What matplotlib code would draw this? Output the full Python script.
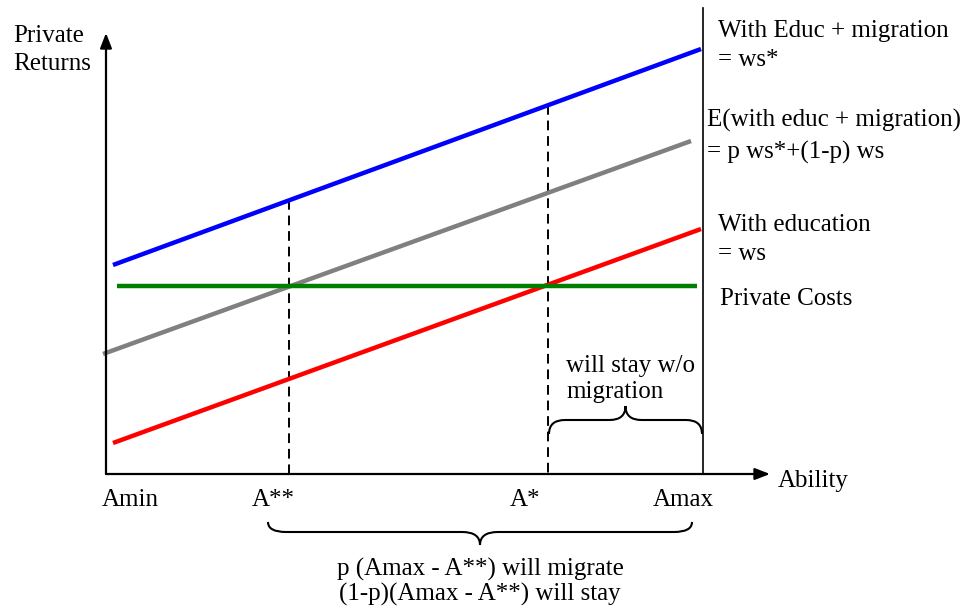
import numpy as np
import matplotlib
matplotlib.use("Agg")
import matplotlib.pyplot as plt
from matplotlib.path import Path
from matplotlib.patches import PathPatch

# schematic in canvas units (x to the right, y downwards)
origin = (106, 474)
y_top = 33
x_right = 770

# ability marks on the x axis
ability_labels = ["Amin", "A**", "A*", "Amax"]
ability_label_x = [130, 273, 525, 683]
a_star2 = 289
a_star = 548
a_max = 703

# lines: (x start, x end), (y start, y end)
line_names = ["educ_mig", "expected", "educ", "costs"]
line_x = [(113, 701), (103, 691), (113, 701), (117, 697)]
line_y = [(265, 49), (354, 141), (443, 229), (286, 286)]
line_colors = ["#0000ff", "#808080", "#ff0000", "#008000"]

# right-hand labels
right_text = ["With Educ + migration", "= ws*", "E(with educ + migration)",
              "= p ws*+(1-p) ws", "With education", "= ws", "Private Costs"]
right_x = [718, 718, 707, 707, 718, 718, 720]
right_y = [31, 60, 120, 152, 225, 254, 299]

plt.rcParams['font.family'] = ['Liberation Serif', 'DejaVu Serif']
FS = 18

fig = plt.figure(figsize=(9.61, 6.08), dpi=100)
ax = fig.add_axes([0, 0, 1, 1])
ax.set_xlim(0, 961)
ax.set_ylim(608, 0)
ax.axis('off')


def y_on(i, x):
    x0, x1 = line_x[i]
    y0, y1 = line_y[i]
    return y0 + (y1 - y0) * (x - x0) / (x1 - x0)


# axes with arrows
arrow = dict(arrowstyle='-|>,head_length=0.9,head_width=0.35', lw=1.6,
             color='black', shrinkA=0, shrinkB=0)
ax.annotate('', xy=(origin[0], y_top), xytext=origin, arrowprops=arrow)
ax.annotate('', xy=(x_right, origin[1]), xytext=origin, arrowprops=arrow)

# vertical line at Amax
ax.plot([a_max, a_max], [8, origin[1]], color='black', lw=1.2)

# dashed lines at A** and A*
ax.plot([a_star2, a_star2], [y_on(0, a_star2), origin[1]], color='black',
        lw=1.4, ls=(0, (5, 3)))
ax.plot([a_star, a_star], [y_on(0, a_star), origin[1]], color='black',
        lw=1.4, ls=(0, (5, 3)))

for i in range(len(line_names)):
    ax.plot(line_x[i], line_y[i], color=line_colors[i], lw=3.2,
            solid_capstyle='butt')


def brace(x0, x1, y_end, y_mid, y_tip, r=18):
    xc = (x0 + x1) / 2
    verts = [(x0, y_end), (x0, y_mid), (x0 + r, y_mid),
             (xc - r, y_mid),
             (xc, y_mid), (xc, y_tip),
             (xc, y_tip),
             (xc, y_mid), (xc + r, y_mid),
             (x1 - r, y_mid),
             (x1, y_mid), (x1, y_end)]
    codes = [Path.MOVETO, Path.CURVE3, Path.CURVE3,
             Path.LINETO,
             Path.CURVE3, Path.CURVE3,
             Path.MOVETO,
             Path.CURVE3, Path.CURVE3,
             Path.LINETO,
             Path.CURVE3, Path.CURVE3]
    ax.add_patch(PathPatch(Path(verts, codes), fill=False, lw=1.5,
                           edgecolor='black'))


brace(268, 692, 522, 532, 545)
brace(549, 702, 434, 420, 406, r=16)

# texts
for lab, x in zip(ability_labels, ability_label_x):
    ax.text(x, 500, lab, fontsize=FS, ha='center', va='center')
ax.text(813, 481, "Ability", fontsize=FS, ha='center', va='center')
ax.text(13, 50, "Private\nReturns", fontsize=FS, ha='left', va='center',
        linespacing=1.35)
for t, x, y in zip(right_text, right_x, right_y):
    ax.text(x, y, t, fontsize=FS, ha='left', va='center')
ax.text(566, 379, "will stay w/o\nmigration", fontsize=FS, ha='left',
        va='center', linespacing=1.25)
ax.text(480, 582, "p (Amax - A**) will migrate\n(1-p)(Amax - A**) will stay",
        fontsize=FS, ha='center', va='center', linespacing=1.15)

fig.savefig("out.png", dpi=100)
